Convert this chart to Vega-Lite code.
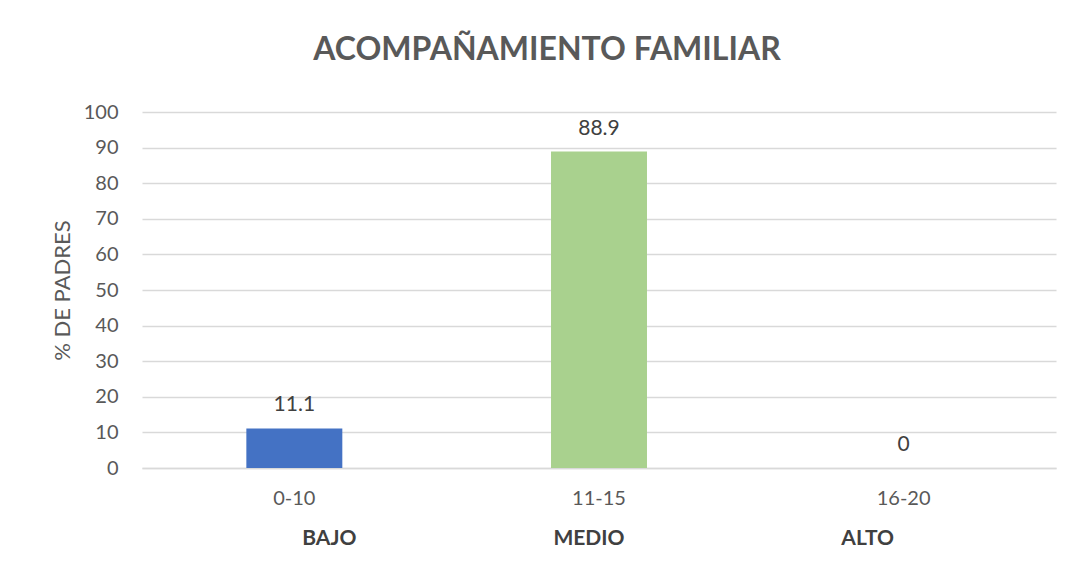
{
  "$schema": "https://vega.github.io/schema/vega-lite/v6.json",
  "autosize": "none",
  "width": 914,
  "height": 356,
  "padding": {"left": 142, "top": 112, "right": 15, "bottom": 111},
  "background": "white",
  "title": {
    "text": "ACOMPAÑAMIENTO FAMILIAR",
    "font": "Lato",
    "fontSize": 32,
    "fontWeight": "bold",
    "color": "#595959",
    "anchor": "middle",
    "dx": -52,
    "offset": 35
  },
  "config": {
    "view": {"stroke": null},
    "font": "Lato"
  },
  "data": {
    "values": [
      {"rango": "0-10", "nivel": "BAJO", "pct": 11.1, "color": "#4472C4"},
      {"rango": "11-15", "nivel": "MEDIO", "pct": 88.9, "color": "#A9D18E"},
      {"rango": "16-20", "nivel": "ALTO", "pct": 0, "color": "#A5A5A5"}
    ]
  },
  "resolve": {"axis": {"x": "independent"}},
  "layer": [
    {
      "mark": {"type": "bar", "width": {"band": 0.315}},
      "encoding": {
        "x": {
          "field": "rango",
          "type": "nominal",
          "sort": null,
          "scale": {"paddingInner": 0, "paddingOuter": 0},
          "axis": {
            "orient": "bottom",
            "title": null,
            "labelAngle": 0,
            "labelFont": "Lato",
            "labelFontSize": 20,
            "labelColor": "#595959",
            "labelPadding": 20,
            "ticks": false,
            "domainColor": "#d9d9d9",
            "domainWidth": 1.5
          }
        },
        "y": {
          "field": "pct",
          "type": "quantitative",
          "scale": {"domain": [0, 100]},
          "axis": {
            "title": "% DE PADRES",
            "titleFont": "Lato",
            "titleFontSize": 22,
            "titleFontWeight": "normal",
            "titleColor": "#595959",
            "titlePadding": 9,
            "values": [0, 10, 20, 30, 40, 50, 60, 70, 80, 90, 100],
            "labelFont": "Lato",
            "labelFontSize": 20,
            "labelColor": "#595959",
            "labelPadding": 24,
            "labelOverlap": false,
            "ticks": false,
            "domain": false,
            "gridColor": "#d9d9d9",
            "gridWidth": 1.5
          }
        },
        "color": {"field": "color", "type": "nominal", "scale": null, "legend": null}
      }
    },
    {
      "mark": {"type": "text", "baseline": "middle", "dy": -23, "font": "Lato", "fontSize": 21, "color": "#404040"},
      "encoding": {
        "x": {
          "field": "rango",
          "type": "nominal",
          "sort": null,
          "axis": {
            "orient": "bottom",
            "title": null,
            "labelAngle": 0,
            "labelExpr": "datum.value == '0-10' ? 'BAJO' : datum.value == '11-15' ? 'MEDIO' : 'ALTO'",
            "labelFont": "Lato",
            "labelFontSize": 21,
            "labelFontWeight": "bold",
            "labelColor": "#404040",
            "labelPadding": 59,
            "labelOffset": {"condition": [{"test": "datum.value == '0-10'", "value": 35}, {"test": "datum.value == '16-20'", "value": -36}], "value": -10},
            "ticks": false,
            "domain": false,
            "grid": false
          }
        },
        "y": {
          "field": "pct",
          "type": "quantitative",
          "axis": {
            "title": "% DE PADRES",
            "values": [0, 10, 20, 30, 40, 50, 60, 70, 80, 90, 100]
          }
        },
        "text": {"field": "pct", "type": "quantitative", "format": ".1~f"}
      }
    }
  ]
}
